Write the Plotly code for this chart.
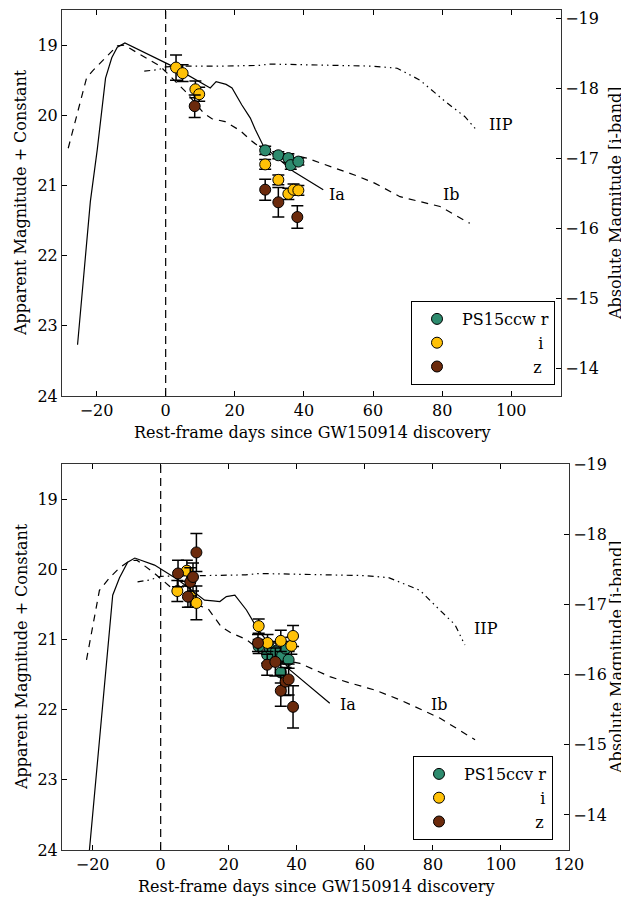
import plotly.graph_objects as go

FONT = "DejaVu Serif"
GREEN = "#2E8B6E"
YELLOW = "#FFC107"
BROWN = "#6B2A0C"

# ---------------- Top panel: PS15ccw ----------------
top_r_day = [28.8, 32.6, 35.5, 36.2, 38.4]
top_r_mag = [20.50, 20.57, 20.61, 20.71, 20.66]
top_r_err = [0.06, 0.05, 0.06, 0.06, 0.05]

top_i_day = [3.0, 4.9, 8.6, 9.7, 28.8, 32.6, 35.5, 37.0, 38.4]
top_i_mag = [19.32, 19.40, 19.63, 19.70, 20.70, 20.92, 21.12, 21.06, 21.07]
top_i_err = [0.18, 0.12, 0.12, 0.10, 0.07, 0.07, 0.08, 0.08, 0.07]

top_z_day = [8.4, 28.8, 32.6, 38.1]
top_z_mag = [19.87, 21.06, 21.24, 21.45]
top_z_err = [0.16, 0.15, 0.21, 0.16]

top_ia_day = [-25.5, -23.5, -21.8, -19.8, -17.4, -15.6, -14.0, -11.8, 1.9, 12.9, 14.6,
              17.5, 19.2, 22.0, 24.5, 25.9, 28.3, 37.0, 45.6]
top_ia_mag = [23.27, 22.20, 21.23, 20.49, 19.47, 19.18, 19.03, 18.97, 19.30, 19.61, 19.52,
              19.56, 19.61, 19.85, 20.04, 20.20, 20.44, 20.80, 21.06]

top_ib_day = [-28.2, -22.9, -21.2, -18.3, -14.0, -12.0, -1.6, 5.7, 11.0, 13.4, 17.2, 21.6,
              24.5, 27.3, 33.0, 40.8, 55.7, 60.6, 67.8, 79.4, 88.0]
top_ib_mag = [20.47, 19.47, 19.37, 19.23, 19.01, 19.00, 19.30, 19.66, 19.97, 20.05, 20.09, 20.22,
              20.35, 20.46, 20.52, 20.61, 20.87, 20.97, 21.16, 21.30, 21.54]

top_iip_day = [-6.2, -2.0, 0.0, 4.0, 15.0, 27.0, 30.0, 45.0, 60.0, 67.0, 73.6, 80.8, 86.6, 90.3]
top_iip_mag = [19.37, 19.35, 19.31, 19.30, 19.30, 19.29, 19.27, 19.28, 19.30, 19.33, 19.50, 19.80, 20.02, 20.23]

# ---------------- Bottom panel: PS15ccv ----------------
bot_r_day = [28.8, 31.3, 32.1, 33.9, 35.3, 35.7, 36.7, 37.6]
bot_r_mag = [21.10, 21.22, 21.13, 21.17, 21.47, 21.23, 21.13, 21.29]
bot_r_err = [0.10, 0.12, 0.10, 0.12, 0.15, 0.12, 0.10, 0.12]

bot_i_day = [4.9, 7.7, 8.7, 10.5, 28.8, 31.4, 35.3, 38.4, 38.9]
bot_i_mag = [20.31, 20.02, 20.39, 20.48, 20.81, 21.05, 21.02, 21.09, 20.95]
bot_i_err = [0.15, 0.15, 0.15, 0.24, 0.10, 0.12, 0.15, 0.12, 0.15]

bot_z_day = [5.1, 8.0, 8.7, 9.5, 10.5, 28.6, 31.3, 33.7, 35.3, 36.7, 37.6, 38.9]
bot_z_mag = [20.06, 20.39, 20.18, 20.11, 19.76, 21.05, 21.36, 21.32, 21.73, 21.60, 21.57, 21.96]
bot_z_err = [0.19, 0.15, 0.20, 0.20, 0.27, 0.12, 0.15, 0.20, 0.22, 0.20, 0.22, 0.30]

bot_ia_day = [-21.2, -19.2, -17.1, -14.1, -12.1, -9.7, -7.6, -1.8, 5.1, 12.9, 15.4, 17.4,
              19.3, 21.8, 25.2, 28.6, 37.9, 49.7]
bot_ia_mag = [24.14, 23.07, 21.86, 20.37, 20.12, 19.90, 19.84, 19.94, 20.15, 20.44, 20.45, 20.46,
              20.39, 20.37, 20.58, 20.86, 21.43, 21.91]

bot_ib_day = [-21.8, -18.0, -15.0, -12.1, -9.1, -7.0, -2.0, 4.0, 10.0, 13.9, 17.8, 20.8, 25.2,
              31.5, 40.9, 49.7, 55.6, 62.9, 70.3, 82.0, 92.4]
bot_ib_mag = [21.29, 20.30, 20.12, 19.98, 19.88, 19.87, 20.05, 20.30, 20.50, 20.56, 20.82, 20.91, 21.00,
              21.25, 21.34, 21.53, 21.62, 21.72, 21.86, 22.12, 22.43]

bot_iip_day = [-6.8, -3.0, 0.0, 10.0, 25.0, 29.0, 45.0, 60.0, 67.0, 76.2, 82.0, 86.5, 89.4]
bot_iip_mag = [20.18, 20.15, 20.10, 20.09, 20.08, 20.06, 20.07, 20.09, 20.12, 20.30, 20.58, 20.79, 21.08]

x_ticks_top = [-20, 0, 20, 40, 60, 80, 100]
x_ticks_bot = [-20, 0, 20, 40, 60, 80, 100, 120]
app_ticks = [19, 20, 21, 22, 23, 24]
abs_ticks = [-19, -18, -17, -16, -15, -14]

fig = go.Figure()


def add_panel(xa, ya, ya2, legend, name, r, i, z, ia, ib, iip):
    for (xs, ys), dash in ((ia, "solid"), (ib, "7px,6px"), (iip, "6px,4px,1.5px,4px,1.5px,4px")):
        fig.add_trace(go.Scatter(x=xs, y=ys, mode="lines", xaxis=xa, yaxis=ya,
                                 line=dict(color="black", width=1.2, dash=dash),
                                 showlegend=False, hoverinfo="skip"))
    nb = "\u00a0"
    labels = [name + " r", nb * 15 + "i", nb * 14 + "z"]
    for (d, m, e), col, lab in zip((r, i, z), (GREEN, YELLOW, BROWN), labels):
        fig.add_trace(go.Scatter(
            x=d, y=m, mode="markers", xaxis=xa, yaxis=ya, name=lab, legend=legend,
            marker=dict(size=11, color=col, line=dict(color="black", width=1)),
            error_y=dict(type="data", array=e, visible=True, color="black",
                         thickness=1.5, width=6)))
    fig.add_trace(go.Scatter(x=[None], y=[None], xaxis=xa, yaxis=ya2, showlegend=False))


add_panel("x", "y", "y2", "legend", "PS15ccw",
          (top_r_day, top_r_mag, top_r_err), (top_i_day, top_i_mag, top_i_err),
          (top_z_day, top_z_mag, top_z_err),
          (top_ia_day, top_ia_mag), (top_ib_day, top_ib_mag), (top_iip_day, top_iip_mag))
add_panel("x2", "y3", "y4", "legend2", "PS15ccv",
          (bot_r_day, bot_r_mag, bot_r_err), (bot_i_day, bot_i_mag, bot_i_err),
          (bot_z_day, bot_z_mag, bot_z_err),
          (bot_ia_day, bot_ia_mag), (bot_ib_day, bot_ib_mag), (bot_iip_day, bot_iip_mag))

# page has an 8px body margin: figure is placed at (8, 8) in the window
OFF = 8
W, H = 629 - OFF, 897 - OFF


def px(v):
    return (v - OFF) / W


def py(v):
    return 1 - (v - OFF) / H


tickfont = dict(family=FONT, size=16, color="black")
common = dict(showgrid=False, zeroline=False, showline=True, linecolor="#333333", linewidth=1,
              ticks="inside", ticklen=5, tickcolor="black", tickfont=tickfont,
              automargin=False, ticklabeloverflow="allow")

top_dom_x = [px(62), px(561)]
bot_dom_x = [px(62), px(569)]
top_dom_y = [py(396), py(10)]
bot_dom_y = [py(850), py(464)]

legend_common = dict(xanchor="right", yanchor="bottom", bordercolor="black", borderwidth=1,
                     bgcolor="white", font=dict(family=FONT, size=16), tracegroupgap=0,
                     itemwidth=40)

fig.update_layout(
    template="none",
    width=W, height=H, margin=dict(l=0, r=0, t=0, b=0, autoexpand=False),
    paper_bgcolor="white", plot_bgcolor="white",
    font=dict(family=FONT, size=16, color="black"),
    xaxis=dict(domain=top_dom_x, anchor="y", range=[-30, 114.4], tickvals=x_ticks_top,
               mirror="ticks", **common),
    yaxis=dict(domain=top_dom_y, anchor="x", range=[24, 18.5], tickvals=app_ticks, **common),
    yaxis2=dict(overlaying="y", anchor="x", side="right", range=[-13.6, -19.12],
                tickvals=abs_ticks, **common),
    xaxis2=dict(domain=bot_dom_x, anchor="y3", range=[-29, 120], tickvals=x_ticks_bot,
                mirror="ticks", **common),
    yaxis3=dict(domain=bot_dom_y, anchor="x2", range=[24, 18.5], tickvals=app_ticks, **common),
    yaxis4=dict(overlaying="y3", anchor="x2", side="right", range=[-13.5, -19.0],
                tickvals=abs_ticks, **common),
    legend=dict(x=px(555), y=py(385), **legend_common),
    legend2=dict(x=px(553), y=py(840), **legend_common),
)

# vertical dashed line at day 0
for xr, yr in (("x", "y"), ("x2", "y3")):
    fig.add_shape(type="line", xref=xr, yref=yr + " domain", x0=0, x1=0, y0=0, y1=1,
                  line=dict(color="black", width=1.2, dash="8px,5px"))

ann = []
# template labels
for xr, yr, items in (("x", "y", [("IIP", 92.9, 20.13), ("Ia", 46.7, 21.13), ("Ib", 79.6, 21.13)]),
                      ("x2", "y3", [("IIP", 91.5, 20.84), ("Ia", 52.1, 21.93), ("Ib", 78.8, 21.93)])):
    for t, xv, yv in items:
        ann.append(dict(text=t, x=xv, y=yv, xref=xr, yref=yr, xanchor="left", yanchor="middle",
                        showarrow=False, font=dict(family=FONT, size=16)))

xtitle = "Rest-frame days since GW150914 discovery"
for yp, xc in ((432, 311.5), (886, 315.5)):
    ann.append(dict(text=xtitle, x=px(xc), y=py(yp), xref="paper", yref="paper", xanchor="center",
                    yanchor="middle", showarrow=False, font=dict(family=FONT, size=16)))
for (y0, y1) in ((10, 396), (464, 850)):
    yc = py((y0 + y1) / 2)
    ann.append(dict(text="Apparent Magnitude + Constant", x=px(21), y=yc, xref="paper", yref="paper",
                    textangle=-90, xanchor="center", yanchor="middle", showarrow=False,
                    font=dict(family=FONT, size=16)))
    ann.append(dict(text="Absolute Magnitude [i-band]", x=px(616), y=yc, xref="paper", yref="paper",
                    textangle=-90, xanchor="center", yanchor="middle", showarrow=False,
                    font=dict(family=FONT, size=16)))
fig.update_layout(annotations=ann)

fig.write_html("out.html")
